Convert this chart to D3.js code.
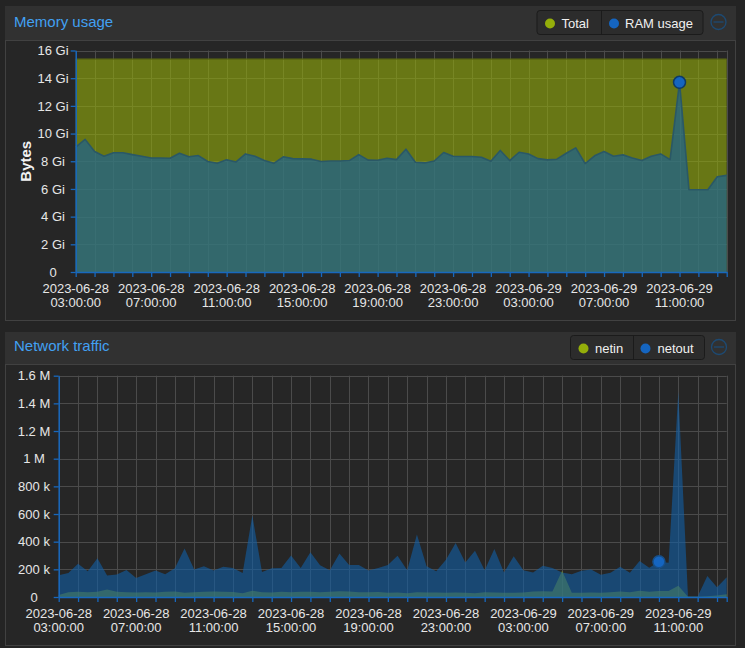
<!DOCTYPE html>
<html><head><meta charset="utf-8">
<script src="https://cdn.jsdelivr.net/npm/d3@7"></script>
<style>
html,body{margin:0;padding:0;background:#242424;}
svg{display:block;font-family:"Liberation Sans",Arial,Helvetica,sans-serif;}
</style></head><body>
<svg id="c" width="745" height="648"></svg>
<script>
// ---- data ----
const startTime = new Date(2023, 5, 28, 3, 0, 0);
const stepMinutes = 30;

// Memory (Gi)
const memTotal = [15.37,15.37,15.37,15.37,15.37,15.37,15.37,15.37,15.37,15.37,
  15.37,15.37,15.37,15.37,15.37,15.37,15.37,15.37,15.37,15.37,
  15.37,15.37,15.37,15.37,15.37,15.37,15.37,15.37,15.37,15.37,
  15.37,15.37,15.37,15.37,15.37,15.37,15.37,15.37,15.37,15.37,
  15.37,15.37,15.37,15.37,15.37,15.37,15.37,15.37,15.37,15.37,
  15.37,15.37,15.37,15.37,15.37,15.37,15.37,15.37,15.37,15.37,
  15.37,15.37,15.37,15.37,15.37,15.37,15.37,15.37,15.37,15.37];
const memRam = [9.02,9.58,8.70,8.36,8.61,8.61,8.48,8.36,8.24,8.24,
  8.22,8.58,8.32,8.41,7.98,7.85,8.10,7.95,8.53,8.36,
  8.05,7.85,8.32,8.19,8.17,8.15,7.98,8.02,8.02,8.05,
  8.48,8.08,8.07,8.22,8.12,8.87,7.93,7.88,8.02,8.63,
  8.36,8.34,8.34,8.29,8.00,8.78,8.05,8.65,8.53,8.19,
  8.10,8.15,8.58,8.97,7.83,8.39,8.70,8.36,8.46,8.24,
  8.05,8.36,8.53,8.12,13.70,5.94,5.94,5.94,6.88,6.98];

// Network (k)
const netIn = [15,35,38,35,38,55,38,35,33,35,
  32,38,40,30,35,38,40,38,36,28,
  45,35,33,38,35,38,38,35,38,42,
  40,35,35,36,30,32,28,35,33,32,
  30,33,30,28,35,33,30,30,33,40,
  42,40,190,30,30,33,30,35,40,35,
  45,38,43,43,82,2,2,5,10,20];
const netOut = [157,174,240,186,281,155,162,196,138,165,
  191,165,208,351,198,223,191,218,210,174,
  590,181,208,210,300,210,324,230,194,315,
  232,232,191,210,231,299,193,451,222,186,
  270,390,250,335,193,347,178,294,193,178,
  226,210,178,164,190,198,161,176,219,176,
  260,212,255,248,1484,3,3,152,70,142];

const memYTicks = [0,2,4,6,8,10,12,14,16];
const memYLabels = ["0","2 Gi","4 Gi","6 Gi","8 Gi","10 Gi","12 Gi","14 Gi","16 Gi"];
const netYTicks = [0,200,400,600,800,1000,1200,1400,1600];
const netYLabels = ["0","200 k","400 k","600 k","800 k","1 M","1.2 M","1.4 M","1.6 M"];

const memLegend = ["Total","RAM usage"];
const netLegend = ["netin","netout"];

const OLIVE = "#94ae0a", BLUE = "#115fa6", AXIS = "#1868bd";

const times = memRam.map((_, i) => new Date(startTime.getTime() + i * stepMinutes * 60000));

const svg = d3.select("#c");
svg.append("rect").attr("width",745).attr("height",648).attr("fill","#242424");

function panel(hy, hh, by, bh, title, titleY) {
  svg.append("rect").attr("x",5).attr("y",hy).attr("width",731).attr("height",hh).attr("fill","#313131");
  svg.append("rect").attr("x",5.5).attr("y",by).attr("width",730).attr("height",bh)
    .attr("fill","#262626").attr("stroke","#414141");
  svg.append("text").attr("x",14).attr("y",titleY).attr("fill","#42a0f2")
    .attr("font-size",15).text(title);
}

function legend(bx, by, bw, bh, divX, items, cy, ty, iconX, iconY) {
  const g = svg.append("g");
  g.append("rect").attr("x",bx).attr("y",by).attr("width",bw).attr("height",bh)
    .attr("rx",3).attr("fill","#2c2c2c").attr("stroke","#1b1b1b");
  g.append("line").attr("x1",divX).attr("x2",divX).attr("y1",by).attr("y2",by+bh).attr("stroke","#1b1b1b");
  items.forEach(it => {
    g.append("circle").attr("cx",it.cx).attr("cy",cy).attr("r",5).attr("fill",it.color);
    g.append("text").attr("x",it.tx).attr("y",ty).attr("fill","#f0f0f0").attr("font-size",13).text(it.label);
  });
  g.append("circle").attr("cx",iconX).attr("cy",iconY).attr("r",7.5).attr("fill","none")
    .attr("stroke","#1d4a73").attr("stroke-width",1.3);
  g.append("line").attr("x1",iconX-5).attr("x2",iconX+5).attr("y1",iconY).attr("y2",iconY)
    .attr("stroke","#1d4a73").attr("stroke-width",1.3);
}

function chart(o) {
  const x = d3.scaleTime().domain([times[0], times[times.length-1]]).range([o.x0, o.x1]);
  const y = d3.scaleLinear().domain([0, o.yMax]).range([o.yb, o.yt]);
  const hours = d3.timeHour.every(1).range(times[0], new Date(times[times.length-1].getTime()+1));
  const xTicks = hours.concat([times[times.length-1]]);
  const g = svg.append("g");

  // grid
  g.append("g").selectAll("line").data(xTicks).join("line")
    .attr("x1",d=>Math.round(x(d))+0.5).attr("x2",d=>Math.round(x(d))+0.5)
    .attr("y1",o.yt).attr("y2",o.yb).attr("stroke","#4b4b4b");
  g.append("g").selectAll("line").data(o.yTicks).join("line")
    .attr("x1",o.x0).attr("x2",o.x1)
    .attr("y1",d=>Math.round(y(d))+0.5).attr("y2",d=>Math.round(y(d))+0.5).attr("stroke","#4b4b4b");

  // areas
  o.series.forEach(s => {
    const area = d3.area().x((d,i)=>x(times[i])).y0(y(0)).y1(d=>y(d));
    g.append("path").datum(s.values).attr("d",area).attr("fill",s.color).attr("fill-opacity",0.6);
    if (s.stroke) {
      const line = d3.line().x((d,i)=>x(times[i])).y(d=>y(d));
      g.append("path").datum(s.values).attr("d",line).attr("fill","none")
        .attr("stroke",s.stroke).attr("stroke-width",s.sw||1.5).attr("stroke-linejoin","round");
    }
  });

  // axes
  const fmtD = d3.timeFormat("%Y-%m-%d"), fmtT = d3.timeFormat("%H:%M:%S");
  const xa = g.append("g").attr("transform",`translate(0,${o.yb})`)
    .call(d3.axisBottom(x).tickValues(xTicks).tickSize(5).tickSizeOuter(0).tickFormat(""));
  xa.select(".domain").attr("stroke",AXIS).attr("stroke-width",1.5);
  xa.selectAll(".tick line").attr("stroke",AXIS).attr("stroke-width",1.3);
  xa.selectAll(".tick text").remove();
  const labelTicks = hours.filter(d => (d.getHours() - 3 + 24) % 4 === 0);
  const lt = g.append("g").selectAll("text").data(labelTicks).join("text")
    .attr("text-anchor","middle").attr("fill","#e6e6e6").attr("font-size",13);
  lt.append("tspan").attr("x",d=>x(d)).attr("y",o.yb+20.5).text(d=>fmtD(d));
  lt.append("tspan").attr("x",d=>x(d)).attr("y",o.yb+35.3).text(d=>fmtT(d));

  const ya = g.append("g").attr("transform",`translate(${o.x0},0)`)
    .call(d3.axisLeft(y).tickValues(o.yTicks).tickSize(5).tickSizeOuter(0)
      .tickFormat((d,i)=>o.yLabels[i]));
  ya.select(".domain").attr("stroke",AXIS).attr("stroke-width",1.5);
  ya.selectAll(".tick line").attr("stroke",AXIS).attr("stroke-width",1.3);
  ya.selectAll(".tick text").attr("text-anchor","middle").attr("x",o.labelCx - o.x0)
    .attr("fill","#e6e6e6").attr("font-size",13).attr("font-family",null);
  ya.attr("font-family",null);
  xa.attr("font-family",null);

  if (o.yTitle) {
    svg.append("text").attr("transform",`translate(${o.yTitleX},${(o.yt+o.yb)/2}) rotate(-90)`)
      .attr("text-anchor","middle").attr("dominant-baseline","middle")
      .attr("fill","#f2f2f2").attr("font-size",15).attr("font-weight","bold").text(o.yTitle);
  }

  // marker
  const m = o.marker;
  g.append("circle").attr("cx",x(times[m.i])).attr("cy",y(m.values[m.i])).attr("r",6)
    .attr("fill","#1565c0").attr("stroke",m.stroke).attr("stroke-width",1.5);
}

// ---- Memory panel ----
panel(6, 34, 40.5, 280, "Memory usage", 27.3);
legend(537, 10.5, 166, 24, 601.5,
  [{cx:550, color:OLIVE, tx:561.5, label:memLegend[0]},
   {cx:614, color:"#1565c0", tx:625, label:memLegend[1]}], 23.5, 27.8, 718.5, 22);
chart({x0:75.7, x1:726.7, yt:50.5, yb:272, yMax:16, yTicks:memYTicks, yLabels:memYLabels,
  labelCx:53, yTitle:"Bytes", yTitleX:27,
  series:[{values:memTotal, color:OLIVE, stroke:"#5c6a12", sw:1.2},
          {values:memRam, color:BLUE, stroke:"#2a5866", sw:1.6}],
  marker:{i:64, values:memRam, stroke:"#0e3a66"}});

// ---- Network panel ----
panel(332, 32, 364.5, 281, "Network traffic", 351);
legend(570.5, 335.5, 134, 24, 633.5,
  [{cx:583.5, color:OLIVE, tx:595, label:netLegend[0]},
   {cx:645.5, color:"#1565c0", tx:657.5, label:netLegend[1]}], 348.5, 352.5, 719, 347);
chart({x0:58.7, x1:726.7, yt:375.7, yb:597, yMax:1600, yTicks:netYTicks, yLabels:netYLabels,
  labelCx:34,
  series:[{values:netIn, color:OLIVE},
          {values:netOut, color:BLUE}],
  marker:{i:62, values:netOut, stroke:"#174f88"}});
</script>
</body></html>
